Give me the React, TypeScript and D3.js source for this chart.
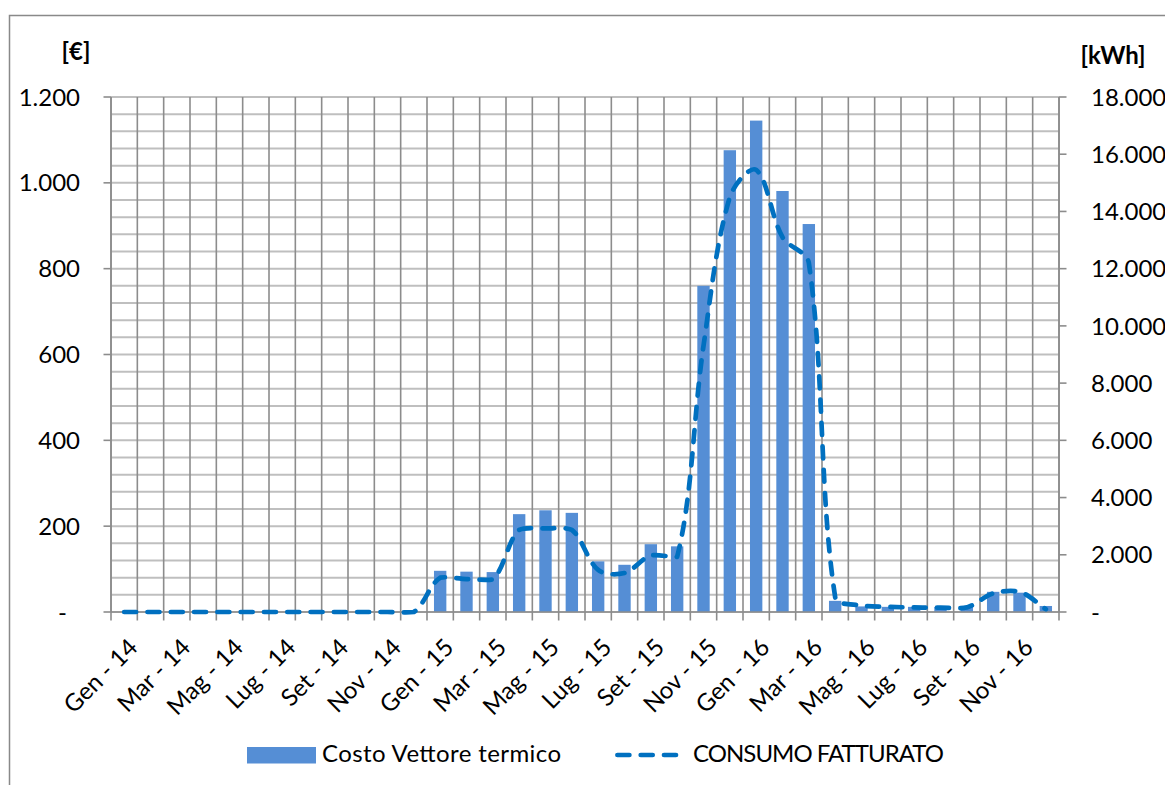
import React from "react";
import * as d3 from "d3";

// Monthly categories, Jan 2014 – Dec 2016
const monthNames = ["Gen", "Feb", "Mar", "Apr", "Mag", "Giu", "Lug", "Ago", "Set", "Ott", "Nov", "Dic"];
const years = ["14", "15", "16"];
const categories: string[] = years.flatMap((y) => monthNames.map((m) => `${m} - ${y}`));

// Costo Vettore termico [€]
const costo: number[] = [
  0, 0, 0, 0, 0, 0, 0, 0, 0, 0, 0, 0,
  96, 94, 93, 228, 237, 231, 118, 110, 158, 153, 760, 1076,
  1145, 981, 904, 26, 13, 12, 12, 12, 12, 47, 45, 14,
];

// CONSUMO FATTURATO [kWh]
const consumo: number[] = [
  0, 0, 0, 0, 0, 0, 0, 0, 0, 0, 0, 0,
  1200, 1150, 1140, 2870, 2920, 2870, 1470, 1360, 1980, 1930, 9300, 14500,
  15450, 13100, 12200, 520, 230, 180, 160, 150, 160, 650, 710, 100,
];

const leftTicks: number[] = [0, 200, 400, 600, 800, 1000, 1200];
const rightTicks: number[] = [0, 2000, 4000, 6000, 8000, 10000, 12000, 14000, 16000, 18000];
const gridStep = 40;

const seriesNames = ["Costo Vettore termico", "CONSUMO FATTURATO"];
const axisTitles = ["[€]", "[kWh]"];

const W = 1165;
const H = 785;
const plot = { left: 111, right: 1059, top: 97, bottom: 612 };

const FONT = "Lato, 'Open Sans', sans-serif";
const FS = 24;
const BAR_COLOR = "#558ED5";
const LINE_COLOR = "#0070C0";
const GRID_H = "#BFBFBF";
const GRID_V = "#8C8C8C";
const DASH = "12 11.3";
const LINE_W = 4.7;

const fmt = (v: number) => (v === 0 ? "-" : d3.format(",")(v).replace(/,/g, "."));

// Smoothed line: cubic Bézier segments whose tangents follow the neighbouring
// points, scaled by the relative length of adjacent segments. On nearly flat
// segments the control points may only overshoot a little, so flat runs stay flat.
function smoothPath(pts: [number, number][]): string {
  const p = d3.path();
  const n = pts.length;
  const dist = (a: [number, number], b: [number, number]) => Math.hypot(b[0] - a[0], b[1] - a[1]);
  p.moveTo(pts[0][0], pts[0][1]);
  for (let i = 0; i < n - 1; i++) {
    const p0 = pts[Math.max(0, i - 1)];
    const p1 = pts[i];
    const p2 = pts[i + 1];
    const p3 = pts[Math.min(n - 1, i + 2)];
    const d01 = dist(p0, p1);
    const d12 = dist(p1, p2);
    const d23 = dist(p2, p3);
    const f1 = d01 + d12 > 0 ? d12 / (d01 + d12) / 3 : 0;
    const f2 = d12 + d23 > 0 ? d12 / (d12 + d23) / 3 : 0;
    const tol = 1 + 0.3 * Math.abs(p2[1] - p1[1]);
    const lo = Math.min(p1[1], p2[1]) - tol;
    const hi = Math.max(p1[1], p2[1]) + tol;
    const clamp = (v: number) => Math.max(lo, Math.min(hi, v));
    const c1x = p1[0] + (p2[0] - p0[0]) * f1;
    const c1y = clamp(p1[1] + (p2[1] - p0[1]) * f1);
    const c2x = p2[0] - (p3[0] - p1[0]) * f2;
    const c2y = clamp(p2[1] - (p3[1] - p1[1]) * f2);
    p.bezierCurveTo(c1x, c1y, c2x, c2y, p2[0], p2[1]);
  }
  return p.toString();
}

export default function App() {
  const x = d3.scaleBand<string>().domain(categories).range([plot.left, plot.right]).padding(0);
  const bw = x.bandwidth();
  const barW = bw * 0.47;
  const yL = d3.scaleLinear().domain([0, 1200]).range([plot.bottom, plot.top]);
  const yR = d3.scaleLinear().domain([0, 18000]).range([plot.bottom, plot.top]);

  const gridY = d3.range(0, 1200 + 1, gridStep);
  const boundaries = [...categories.map((c) => x(c) as number), plot.right];

  const linePts: [number, number][] = consumo.map((v, i) => [
    (x(categories[i]) as number) + bw / 2,
    yR(v),
  ]);
  const linePath = smoothPath(linePts);

  const capOff = FS * 0.36;

  return (
    <svg
      width={W}
      height={H}
      style={{ position: "fixed", left: 0, top: 0, background: "#fff" }}
      fontFamily={FONT}
    >
      <rect x={0} y={0} width={W} height={H} fill="#fff" />
      {/* chart frame */}
      <rect x={9.5} y={15.5} width={W + 20} height={H + 20} fill="none" stroke="#898989" strokeWidth={1.5} />

      {/* horizontal grid */}
      {gridY.map((v) => (
        <line key={`h${v}`} x1={plot.left} x2={plot.right} y1={yL(v)} y2={yL(v)} stroke={GRID_H} strokeWidth={2} />
      ))}
      {/* vertical grid */}
      {boundaries.map((bx, i) => (
        <line key={`v${i}`} x1={bx} x2={bx} y1={plot.top} y2={plot.bottom} stroke={GRID_V} strokeWidth={1.6} />
      ))}

      {/* bars */}
      {costo.map((v, i) =>
        v > 0 ? (
          <rect
            key={`b${i}`}
            x={(x(categories[i]) as number) + (bw - barW) / 2}
            y={yL(v)}
            width={barW}
            height={yL(0) - yL(v)}
            fill={BAR_COLOR}
          />
        ) : null
      )}

      {/* x axis */}
      <line x1={plot.left} x2={plot.right} y1={plot.bottom} y2={plot.bottom} stroke={GRID_V} strokeWidth={1.6} />
      {boundaries.map((bx, i) => (
        <line key={`xt${i}`} x1={bx} x2={bx} y1={plot.bottom} y2={plot.bottom + 8.5} stroke={GRID_V} strokeWidth={1.6} />
      ))}
      {categories.map((c, i) =>
        i % 2 === 0 ? (
          <text
            key={`xl${i}`}
            transform={`translate(${(x(c) as number) + bw / 2 + 15},${plot.bottom + 37}) rotate(-45)`}
            textAnchor="end"
            fontSize={FS}
            fill="#000"
          >
            {c}
          </text>
        ) : null
      )}

      {/* left axis */}
      <line x1={plot.left} x2={plot.left} y1={plot.top} y2={plot.bottom} stroke={GRID_V} strokeWidth={1.6} />
      {leftTicks.map((v) => (
        <g key={`lt${v}`}>
          <line x1={plot.left - 7.5} x2={plot.left} y1={yL(v)} y2={yL(v)} stroke={GRID_V} strokeWidth={1.6} />
          <text x={v === 0 ? 67 : 80} y={yL(v) + capOff} textAnchor="end" fontSize={FS} fill="#000">
            {fmt(v)}
          </text>
        </g>
      ))}
      <text x={76} y={60} textAnchor="middle" fontSize={FS} fontWeight="bold" fill="#000">
        {axisTitles[0]}
      </text>

      {/* right axis */}
      <line x1={plot.right} x2={plot.right} y1={plot.top} y2={plot.bottom} stroke={GRID_V} strokeWidth={1.6} />
      {rightTicks.map((v) => (
        <g key={`rt${v}`}>
          <line x1={plot.right} x2={plot.right + 7.5} y1={yR(v)} y2={yR(v)} stroke={GRID_V} strokeWidth={1.6} />
          <text x={1091} y={yR(v) + capOff} textAnchor="start" fontSize={FS} fill="#000">
            {fmt(v)}
          </text>
        </g>
      ))}
      <text x={1113} y={64} textAnchor="middle" fontSize={FS} fontWeight="bold" fill="#000">
        {axisTitles[1]}
      </text>

      {/* consumption line */}
      <path
        d={linePath}
        fill="none"
        stroke={LINE_COLOR}
        strokeWidth={LINE_W}
        strokeDasharray={DASH}
        strokeLinecap="round"
        strokeLinejoin="round"
      />

      {/* legend */}
      <rect x={247} y={747} width={69} height={16.5} fill={BAR_COLOR} />
      <text x={322} y={762} fontSize={FS} fill="#000" textLength={239} lengthAdjust="spacing">
        {seriesNames[0]}
      </text>
      <line
        x1={617.4}
        x2={676.3}
        y1={755}
        y2={755}
        stroke={LINE_COLOR}
        strokeWidth={LINE_W}
        strokeDasharray={DASH}
        strokeLinecap="round"
      />
      <text x={693} y={762} fontSize={FS} fill="#000" textLength={251} lengthAdjust="spacing">
        {seriesNames[1]}
      </text>
    </svg>
  );
}
